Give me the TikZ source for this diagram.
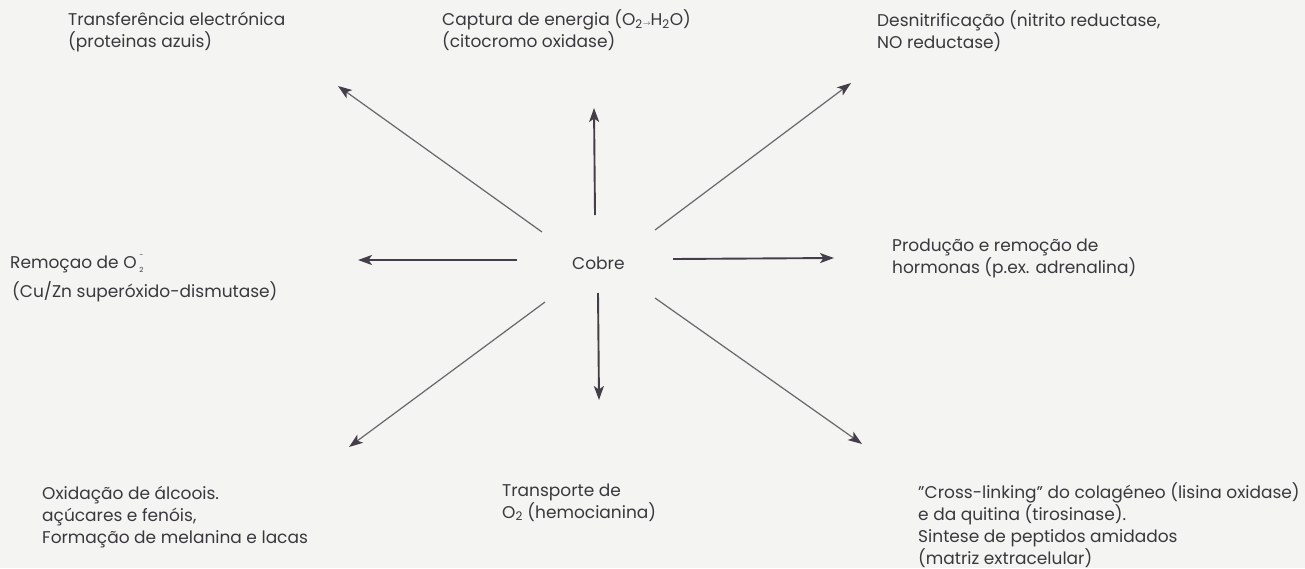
\documentclass[tikz,border=0pt]{standalone}
\usepackage{fontspec}
\setmainfont{Poppins}
\usetikzlibrary{arrows.meta}
\definecolor{paper}{HTML}{F4F4F2}
\definecolor{ink}{HTML}{3A383C}
\definecolor{arr}{HTML}{443E4A}
\definecolor{thin}{HTML}{6A666C}
\tikzset{
  lbl/.style={align=left, anchor=base west, inner sep=0pt, text=ink,
    font=\fontsize{17}{21.8}\selectfont},
  strong/.style={draw=arr, line width=1.9pt, -{Stealth[length=14pt,width=10pt,inset=3.5pt]}},
  diag/.style={draw=thin, line width=1.2pt, -{Stealth[length=14pt,width=10pt,inset=3.5pt,color=arr,fill=arr]}},
}
\begin{document}
\begin{tikzpicture}[x=1pt,y=-1pt]
\fill[paper] (0,0) rectangle (1305,568);
\useasboundingbox (0,0) rectangle (1305,568);

\node[lbl] (cobre) at (572,269) {Cobre};

\node[lbl] (tel) at (68,47) {Transferência electrónica\\(proteinas azuis)};
\node[lbl] (cap) at (442,47) {Captura de energia (O\textsubscript{2}{\scriptsize$\rightarrow$}H\textsubscript{2}O)\\(citocromo oxidase)};
\node[lbl] (den) at (877,48) {Desnitrificação (nitrito reductase,\\NO reductase)};
\node[lbl] (rem) at (10,268) {Remoçao de O\,\rlap{\raisebox{1.1ex}{\scriptsize\textminus}}\raisebox{-0.5ex}{\scriptsize 2}};
\node[lbl] (rem2) at (12,297) {(Cu/Zn superóxido-dismutase)};
\node[lbl] (pro) at (892,273) {Produção e remoção de\\hormonas (p.ex. adrenalina)};
\node[lbl] (oxi) at (42,543) {Oxidação de álcoois.\\açúcares e fenóis,\\Formação de melanina e lacas};
\node[lbl] (tra) at (502,518) {Transporte de\\O\textsubscript{2} (hemocianina)};
\node[lbl] (cro) at (918,564) {"Cross-linking" do colagéneo (lisina oxidase)\\e da quitina (tirosinase).\\Sintese de peptidos amidados\\(matriz extracelular)};

\coordinate (ulA) at (542,232); \coordinate (ulB) at (338,86);
\coordinate (uA) at (595,215);  \coordinate (uB) at (594,108);
\coordinate (urA) at (655,230); \coordinate (urB) at (851,83);
\coordinate (lA) at (517,260);  \coordinate (lB) at (358,260);
\coordinate (rA) at (673,259);  \coordinate (rB) at (834,258);
\coordinate (dA) at (598,293);  \coordinate (dB) at (599,400);
\coordinate (dlA) at (545,302); \coordinate (dlB) at (349,447);
\coordinate (drA) at (655,298); \coordinate (drB) at (862,444);

\draw[diag] (ulA) -- (ulB);
\draw[strong] (uA) -- (uB);
\draw[diag] (urA) -- (urB);
\draw[strong] (lA) -- (lB);
\draw[strong] (rA) -- (rB);
\draw[strong] (dA) -- (dB);
\draw[diag] (dlA) -- (dlB);
\draw[diag] (drA) -- (drB);
\end{tikzpicture}
\end{document}
